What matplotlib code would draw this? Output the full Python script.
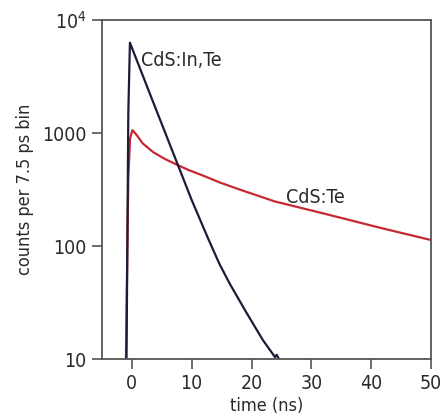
import numpy as np
import matplotlib.pyplot as plt

plt.rcParams['font.family'] = ['DejaVu Sans']
plt.rcParams['font.stretch'] = 'condensed'
plt.rcParams['mathtext.default'] = 'regular'

# CdS:In,Te decay (black)
t_inte = [-0.9, -0.6, -0.33, 3.0, 6.35, 10.0, 12.7, 14.6, 16.4, 19.1, 21.9, 23.6, 23.9, 24.2, 24.5]
c_inte = [10, 1500, 6300, 2230, 790, 255, 118, 70, 46, 26, 14.7, 11, 10.4, 10.9, 10.2]

# CdS:Te decay (red)
t_te = [-1.0, -0.6, -0.3, 0.1, 0.8, 1.8, 3.6, 5.5, 7.5, 9.5, 11.9, 14.7, 18.1, 23.9, 33.1, 41.5, 50]
c_te = [10, 400, 900, 1060, 960, 810, 675, 590, 525, 470, 420, 365, 315, 248, 188, 145, 113]

xticks = [0, 10, 20, 30, 40, 50]
yticks = [10, 100, 1000, 10000]
ytick_labels = ['10', '100', '1000', r'$10^4$']

text_col = '#2a2a2a'
fig = plt.figure(figsize=(4.44, 4.17), dpi=100)
ax = fig.add_axes([0.2297, 0.139, 0.741, 0.813])

ax.plot(t_te, c_te, color='#c42a30', lw=1.6)
ax.plot(t_inte, c_inte, color='#1c1c38', lw=1.6)

ax.set_yscale('log')
ax.set_xlim(-5, 50)
ax.set_ylim(10, 10000)
ax.set_xticks(xticks)
ax.set_yticks(yticks)
ax.set_yticklabels(ytick_labels)
ax.minorticks_off()
ax.tick_params(direction='out', length=7, width=1.2, color='#555555',
               labelsize=14, labelcolor=text_col, pad=4)

for s in ax.spines.values():
    s.set_color('#555555')
    s.set_linewidth(1.3)

ax.set_xlabel('time (ns)', fontsize=13, color=text_col, labelpad=3)
ax.set_ylabel('counts per 7.5 ps bin', fontsize=13, color=text_col, labelpad=6)

ax.text(1.6, 4400, 'CdS:In,Te', fontsize=14, color=text_col, va='center')
ax.text(25.7, 270, 'CdS:Te', fontsize=14, color=text_col, va='center')

fig.savefig('out.png', dpi=100)
